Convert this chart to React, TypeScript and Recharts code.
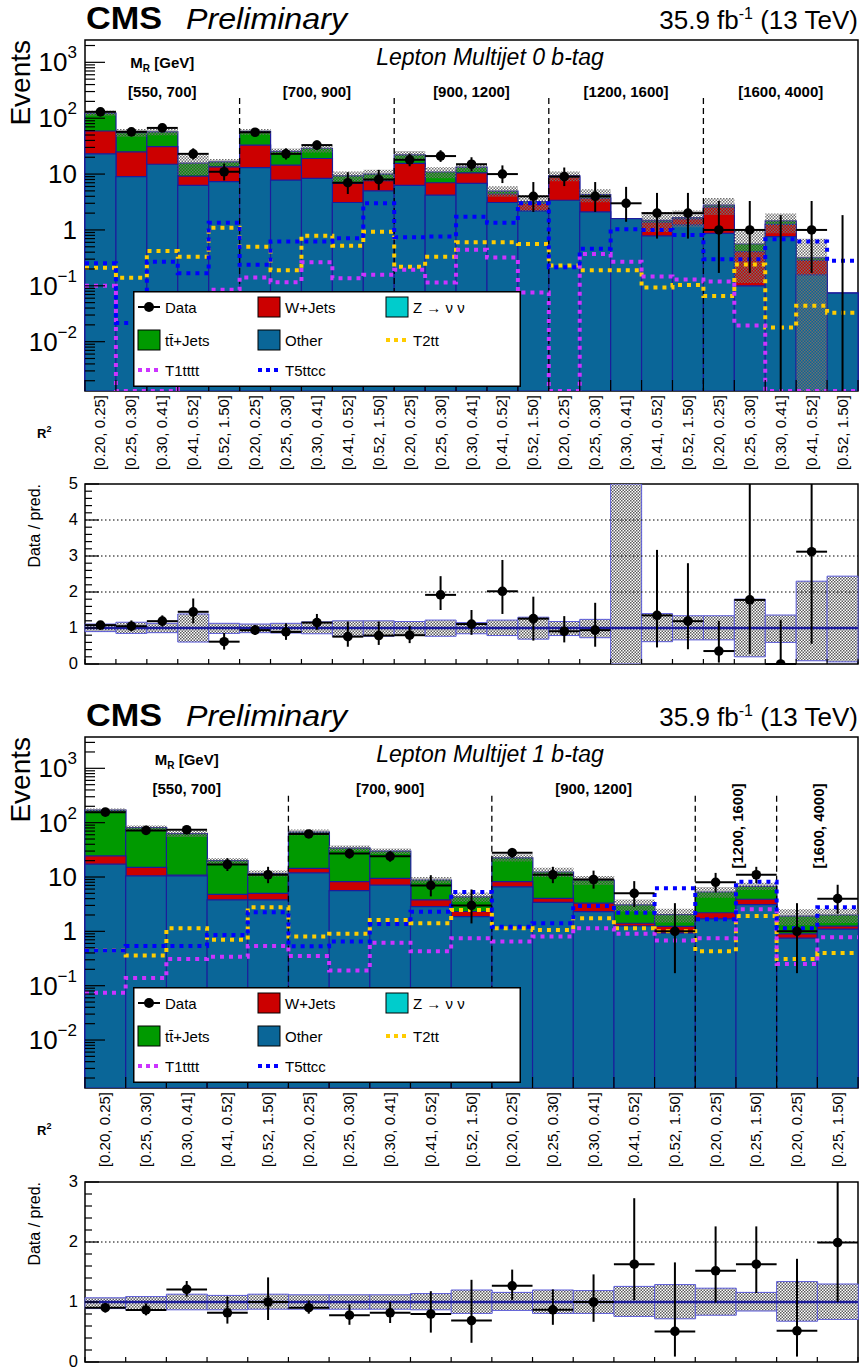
import React from 'react';
import {
  ComposedChart,
  Bar,
  Line,
  Scatter,
  XAxis,
  YAxis,
  ErrorBar,
  ReferenceLine,
  ReferenceArea,
  Legend,
} from 'recharts';

const FONT = '"Liberation Sans", Arial, Helvetica, sans-serif';

const C_OTHER = '#0a6698';
const C_WJETS = '#cc0000';
const C_TTJETS = '#009a00';
const C_ZNN = '#00cccc';
const C_T2TT = '#ffcc00';
const C_T1TTTT = '#cc33ff';
const C_T5TTCC = '#0000ff';
const C_OUTLINE = '#1c1c9c';

// R² bin labels
const R2_FIVE = ['[0.20, 0.25]', '[0.25, 0.30]', '[0.30, 0.41]', '[0.41, 0.52]', '[0.52, 1.50]'];
const R2_TWO = ['[0.20, 0.25]', '[0.25, 1.50]'];

// ---------------- Lepton Multijet 0 b-tag ----------------
const R2_LABELS_0B = [...R2_FIVE, ...R2_FIVE, ...R2_FIVE, ...R2_FIVE, ...R2_FIVE];
const MR_LABELS_0B = ['[550, 700]', '[700, 900]', '[900, 1200]', '[1200, 1600]', '[1600, 4000]'];
const MR_SIZES_0B = [5, 5, 5, 5, 5];

const OTHER_0B = [23, 9.0, 15, 6.3, 7.3, 13, 7.8, 8.4, 3.1, 5.0, 6.3, 4.2, 6.8, 3.1, 2.2, 3.4, 2.1, 1.6, 0.78, 1.23, 0.87, 0.1, 0.76, 0.157, 0.074];
const WJETS_0B = [36, 16, 16, 2.9, 6.2, 20, 6.7, 10.6, 3.7, 2.6, 9.2, 2.8, 3.7, 1.3, 0.8, 5.5, 1.6, 0, 0.6, 0.35, 1.7, 0.31, 0.5, 0.13, 0];
const TTJETS_0B = [64, 30, 26, 6.5, 3.0, 25, 11, 10, 2.5, 2.4, 6.5, 3.9, 2.8, 0.55, 0.2, 0.5, 0.6, 0, 0.1, 0.09, 0.2, 0.15, 0.19, 0.03, 0];

// relative uncertainty of the background prediction (main panel band)
const BAND_LO_0B = [0.9, 0.85, 0.87, 0.61, 0.85, 0.87, 0.86, 0.84, 0.77, 0.77, 0.79, 0.77, 0.84, 0.79, 0.69, 0.79, 0.73, null, 0.62, 0.67, 0.67, 0.2, 0.6, 0.001, null];
const BAND_HI_0B = [1.11, 1.16, 1.13, 1.39, 1.13, 1.11, 1.13, 1.17, 1.2, 1.2, 1.18, 1.22, 1.15, 1.22, 1.3, 1.18, 1.24, null, 1.4, 1.34, 1.34, 1.8, 1.36, 2.2, null];
// ratio panel band
const RBAND_LO_0B = [0.9, 0.85, 0.87, 0.61, 0.85, 0.87, 0.86, 0.84, 0.77, 0.77, 0.79, 0.77, 0.84, 0.79, 0.69, 0.79, 0.73, 0, 0.62, 0.67, 0.67, 0.2, 0.6, 0.09, 0.06];
const RBAND_HI_0B = [1.11, 1.16, 1.13, 1.39, 1.13, 1.11, 1.13, 1.17, 1.2, 1.2, 1.18, 1.22, 1.15, 1.22, 1.3, 1.18, 1.24, 5, 1.4, 1.34, 1.34, 1.8, 1.36, 2.3, 2.44];

const DATA_0B = [130, 57, 67, 23, 11, 56, 23, 33, 7, 8, 18, 21, 15, 10, 4, 9, 4, 3, 2, 2, 1, 1, 0, 1, 0];
const DATA_ERR_LO_0B = [11.4, 7.5, 8.2, 4.8, 3.3, 7.5, 4.8, 5.7, 2.6, 2.8, 4.2, 4.5, 3.8, 3.1, 1.9, 2.9, 1.9, 1.6, 1.3, 1.3, 0.83, 0.83, 0, 0.83, 0];
const DATA_ERR_HI_0B = [12.4, 8.6, 9.2, 5.9, 4.4, 8.5, 5.9, 6.8, 3.8, 3.9, 5.3, 5.7, 5.0, 4.3, 3.2, 4.1, 3.2, 2.9, 2.6, 2.6, 2.3, 2.3, 1.84, 2.3, 1.84];

const RATIO_0B = [1.08, 1.05, 1.19, 1.45, 0.62, 0.94, 0.89, 1.15, 0.76, 0.79, 0.8, 1.92, 1.11, 2.02, 1.26, 0.91, 0.94, null, 1.35, 1.19, 0.36, 1.78, 0, 3.12, null];
const RATIO_ERR_LO_0B = [0.09, 0.14, 0.15, 0.32, 0.22, 0.13, 0.22, 0.2, 0.28, 0.26, 0.22, 0.42, 0.3, 0.63, 0.61, 0.31, 0.46, 0, 0.89, 0.78, 0.32, 1.5, 0, 2.56, 0];
// upper errors running past the frame are shown up to the frame edge
const RATIO_ERR_HI_0B = [0.1, 0.16, 0.16, 0.37, 0.24, 0.14, 0.24, 0.24, 0.42, 0.39, 0.26, 0.52, 0.39, 0.87, 0.61, 0.42, 0.76, 0, 1.82, 1.61, 0.84, 3.22, 1.23, 1.88, 0];

const T2TT_0B = [0.21, 0.14, 0.42, 0.33, 1.1, 0.5, 0.19, 0.79, 0.52, 0.93, 0.22, 0.33, 0.6, 0.6, 0.56, 0.23, 0.19, 0.19, 0.093, 0.103, 0.066, 0.24, 0.018, 0.044, 0.033];
const T1TTTT_0B = [0.1, 0, 0, 0.04, 0.085, 0.141, 0.116, 0.265, 0.137, 0.157, 0.193, 0.115, 0.44, 0.32, 0.076, 0, 0.37, 0.27, 0.147, 0.13, 0.12, 0.0195, 0, 0, 0];
const T5TTCC_0B = [0.254, 0.0216, 0.27, 0.168, 1.35, 0.237, 0.62, 0.62, 0.71, 3.0, 0.74, 0.76, 1.73, 1.35, 3.0, 0.216, 0.46, 1.03, 1.0, 0.81, 0.3, 0.3, 0.68, 0.62, 0.28];

// ---------------- Lepton Multijet 1 b-tag ----------------
const R2_LABELS_1B = [...R2_FIVE, ...R2_FIVE, ...R2_FIVE, ...R2_TWO, ...R2_TWO];
const MR_LABELS_1B = ['[550, 700]', '[700, 900]', '[900, 1200]', '[1200, 1600]', '[1600, 4000]'];
const MR_SIZES_1B = [5, 5, 5, 2, 2];

const OTHER_1B = [17.2, 10.5, 10.5, 3.8, 3.8, 11.9, 5.6, 7.1, 2.85, 1.87, 6.6, 3.4, 2.3, 1.26, 0.93, 1.7, 3.1, 0.75, 1.1];
const WJETS_1B = [7.2, 4.5, 0.3, 1.0, 1.2, 2.5, 2.6, 2.3, 0.95, 0.45, 1.6, 0.66, 1.0, 0.15, 0.3, 0.5, 0.8, 0.15, 0.15];
const TTJETS_1B = [146, 66, 52, 15.2, 6.6, 52.6, 25.8, 20.6, 5.0, 2.0, 14.3, 8.3, 5.5, 1.65, 0.8, 3.1, 2.85, 1.0, 0.75];

const BAND_LO_1B = [0.89, 0.87, 0.87, 0.87, 0.88, 0.88, 0.88, 0.88, 0.87, 0.81, 0.86, 0.81, 0.81, 0.76, 0.72, 0.78, 0.85, 0.68, 0.71];
const BAND_HI_1B = [1.07, 1.09, 1.13, 1.11, 1.13, 1.12, 1.12, 1.12, 1.14, 1.2, 1.16, 1.2, 1.19, 1.26, 1.29, 1.23, 1.16, 1.34, 1.3];

const DATA_1B = [156, 72, 74, 17, 11, 62, 27, 24, 7, 3, 28, 11, 9, 5, 1, 8, 11, 1, 4];
const DATA_ERR_LO_1B = [12.5, 8.5, 8.6, 4.1, 3.3, 7.9, 5.2, 4.9, 2.6, 1.6, 5.3, 3.3, 2.9, 2.2, 0.83, 2.8, 3.3, 0.83, 1.9];
const DATA_ERR_HI_1B = [13.5, 9.5, 9.6, 5.2, 4.4, 8.9, 6.2, 5.9, 3.8, 2.9, 6.3, 4.4, 4.1, 3.4, 2.3, 3.9, 4.4, 2.3, 3.2];

const RATIO_1B = [0.905, 0.867, 1.21, 0.82, 1.0, 0.905, 0.78, 0.82, 0.8, 0.69, 1.27, 0.87, 1.0, 1.63, 0.51, 1.52, 1.63, 0.52, 1.99];
const RATIO_ERR_LO_1B = [0.08, 0.09, 0.12, 0.18, 0.3, 0.1, 0.16, 0.17, 0.31, 0.37, 0.24, 0.25, 0.33, 0.6, 0.42, 0.53, 0.48, 0.43, 0.99];
const RATIO_ERR_HI_1B = [0.08, 0.11, 0.14, 0.27, 0.41, 0.12, 0.18, 0.18, 0.38, 0.68, 0.27, 0.34, 0.46, 1.1, 1.15, 0.74, 0.63, 1.2, 1.01];

const T2TT_1B = [0.45, 0.36, 1.14, 0.7, 2.77, 0.8, 0.9, 1.62, 1.41, 2.48, 1.14, 1.06, 1.75, 1.14, 1.0, 0.43, 1.92, 0.31, 0.4];
const T1TTTT_1B = [0.074, 0.139, 0.31, 0.34, 0.54, 0.35, 0.19, 0.62, 0.43, 0.75, 0.65, 0.8, 1.14, 0.9, 0.68, 0.75, 2.55, 0.25, 0.78];
const T5TTCC_1B = [0.445, 0.54, 0.54, 0.86, 2.25, 0.53, 0.65, 1.37, 2.3, 5.3, 1.22, 1.41, 2.93, 2.21, 6.2, 1.67, 8.2, 1.14, 2.77];

// axis ranges
const Y_RANGE_0B: [number, number] = [0.00131, 2510];
const Y_RANGE_1B: [number, number] = [0.00131, 3770];
const RATIO_MAX_0B = 5;
const RATIO_MAX_1B = 3;
const LOG_DECADES = [-3, -2, -1, 0, 1, 2, 3];

const LEGEND_ITEMS = [
  { label: 'Data', kind: 'data', color: '#000' },
  { label: 'W+Jets', kind: 'box', color: C_WJETS },
  { label: 'Z \u2192 \u03bd \u03bd', kind: 'box', color: C_ZNN },
  { label: 'tt\u0304+Jets', kind: 'box', color: C_TTJETS },
  { label: 'Other', kind: 'box', color: C_OTHER },
  { label: 'T2tt', kind: 'line', color: C_T2TT },
  { label: 'T1tttt', kind: 'line', color: C_T1TTTT },
  { label: 'T5ttcc', kind: 'line', color: C_T5TTCC },
];

// ---------------- geometry ----------------
const W = 862;
const PLOT_LEFT = 85;
const PLOT_RIGHT = 858;
const MAIN_H = 480;
const MAIN_TOP_MARGIN = 40;
const MAIN_PLOT_H = 351;
const RATIO_TOP_MARGIN = 14;
const RATIO_PLOT_H = 180;
const RATIO_BOTTOM_SPACE = 12;
const RATIO_H = RATIO_TOP_MARGIN + RATIO_PLOT_H + RATIO_BOTTOM_SPACE;

type Spec = {
  other: number[];
  wjets: number[];
  ttjets: number[];
  bandLo: (number | null)[];
  bandHi: (number | null)[];
  data: number[];
  errLo: number[];
  errHi: number[];
  t2tt: number[];
  t1tttt: number[];
  t5ttcc: number[];
  yRange: [number, number];
  r2: string[];
  separators: number[];
  sepTop: number;
  legendTop: number;
};

const logTicks = (range: [number, number]) => {
  const out: number[] = [];
  LOG_DECADES.forEach((e) => {
    for (let k = 1; k <= 9; k++) {
      const v = k * Math.pow(10, e);
      if (v >= range[0] && v <= range[1]) out.push(v);
    }
  });
  return out;
};

const LogYTick = (props: any) => {
  const { x, y, payload } = props;
  const v: number = payload.value;
  const e = Math.round(Math.log10(v));
  const major = Math.abs(v / Math.pow(10, e) - 1) < 1e-6;
  const len = major ? 20 : 10;
  let label: React.ReactNode = null;
  if (major) {
    if (e === 0 || e === 1) {
      label = (
        <text x={x - 8} y={y + 9} textAnchor="end" fontSize={26} fontFamily={FONT} fill="#000">
          {e === 0 ? '1' : '10'}
        </text>
      );
    } else {
      label = (
        <text x={x - 8} y={y + 9} textAnchor="end" fontSize={26} fontFamily={FONT} fill="#000">
          10
          <tspan dy={-13} fontSize={17}>
            {e < 0 ? `\u2212${-e}` : `${e}`}
          </tspan>
        </text>
      );
    }
  }
  return (
    <g>
      <line x1={x} y1={y} x2={x + len} y2={y} stroke="#000" strokeWidth={1.2} />
      {label}
    </g>
  );
};

const RatioYTick = (props: any) => {
  const { x, y, payload } = props;
  const v: number = payload.value;
  const major = Math.abs(v - Math.round(v)) < 1e-6;
  return (
    <g>
      <line x1={x} y1={y} x2={x + (major ? 14 : 7)} y2={y} stroke="#000" strokeWidth={1.2} />
      {major && (
        <text x={x - 7} y={y + 5} textAnchor="end" fontSize={16.5} fontFamily={FONT} fill="#000">
          {Math.round(v)}
        </text>
      )}
    </g>
  );
};

const makeBinTick = (labels: string[], edgeLen: number) => (props: any) => {
  const { x, y, payload } = props;
  const v: number = payload.value;
  if (Math.abs(v - Math.round(v)) < 1e-6) {
    return <line x1={x} y1={y} x2={x} y2={y - edgeLen} stroke="#000" strokeWidth={1.2} />;
  }
  const label = labels[Math.floor(v)];
  if (!label) return <g />;
  return (
    <text
      transform={`translate(${x + 5}, ${y + 4}) rotate(-90)`}
      textAnchor="end"
      fontSize={15}
      fontFamily={FONT}
      fill="#000"
    >
      {label}
    </text>
  );
};

const steps = (vals: number[], floor: number) => [
  ...vals.map((v, i) => ({ x: i, v: Math.max(v, floor) })),
  { x: vals.length, v: Math.max(vals[vals.length - 1], floor) },
];

const DataDot = (props: any) => <circle cx={props.cx} cy={props.cy} r={4.8} fill="#000" />;
const NoDot = () => <g />;

const LegendBox = () => (
  <svg width={388} height={96} style={{ display: 'block' }}>
    <rect x={0.75} y={0.75} width={386.5} height={94.5} fill="#fff" stroke="#000" strokeWidth={1.5} />
    {LEGEND_ITEMS.map((it, i) => {
      const col = i % 3;
      const row = Math.floor(i / 3);
      const sx = [5, 125, 253][col];
      const cy = [16, 49, 79][row];
      let sym: React.ReactNode;
      if (it.kind === 'data') {
        sym = (
          <g>
            <line x1={sx} y1={cy} x2={sx + 22} y2={cy} stroke="#000" strokeWidth={2} />
            <circle cx={sx + 11} cy={cy} r={5} fill="#000" />
          </g>
        );
      } else if (it.kind === 'box') {
        sym = <rect x={sx} y={cy - 10} width={22} height={20} fill={it.color} stroke="#000" strokeWidth={1} />;
      } else {
        sym = (
          <line x1={sx} y1={cy} x2={sx + 22} y2={cy} stroke={it.color} strokeWidth={4} strokeDasharray="4 4" />
        );
      }
      return (
        <g key={it.label}>
          {sym}
          <text x={sx + 27} y={cy + 5.5} fontSize={15} fontFamily={FONT} fill="#000">
            {it.label}
          </text>
        </g>
      );
    })}
  </svg>
);

const MainPanel = ({ p }: { p: Spec }) => {
  const n = p.other.length;
  const [yMin, yMax] = p.yRange;
  const rows = p.other.map((o, i) => {
    const ow = o + p.wjets[i];
    const tot = ow + p.ttjets[i];
    const lo = p.bandLo[i];
    const hi = p.bandHi[i];
    return {
      x: i + 0.5,
      o,
      ow,
      tot,
      band: lo == null || hi == null ? null : [Math.max(tot * lo, yMin * 0.1), tot * hi],
    };
  });
  const pts = p.data
    .map((d, i) => ({ x: i + 0.5, y: d, ex: 0.5, ey: [p.errLo[i], p.errHi[i]] }))
    .filter((q) => q.y > 0);
  const zeros = p.data
    .map((d, i) => ({ x: i + 0.5, y: yMin, ey: [0, p.errHi[i]], d }))
    .filter((q) => q.d === 0);
  const xTicks = Array.from({ length: 2 * n + 1 }, (_, k) => k / 2);
  const BinTick = makeBinTick(p.r2, 11);

  return (
    <ComposedChart
      width={W}
      height={MAIN_H}
      data={rows}
      margin={{ top: MAIN_TOP_MARGIN, right: W - PLOT_RIGHT, bottom: 9, left: 0 }}
      barCategoryGap={0}
      barGap={0}
    >
      <XAxis
        xAxisId="num"
        type="number"
        dataKey="x"
        domain={[0, n]}
        ticks={xTicks}
        interval={0}
        tick={BinTick}
        tickLine={false}
        axisLine={false}
        tickSize={0}
        tickMargin={0}
        height={80}
        allowDataOverflow
      />
      <XAxis xAxisId="c0" type="category" dataKey="x" hide height={0} />
      <XAxis xAxisId="c1" type="category" dataKey="x" hide height={0} />
      <XAxis xAxisId="c2" type="category" dataKey="x" hide height={0} />
      <XAxis xAxisId="c3" type="category" dataKey="x" hide height={0} />
      <YAxis
        type="number"
        scale="log"
        domain={[yMin, yMax]}
        allowDataOverflow
        ticks={logTicks(p.yRange)}
        interval={0}
        tick={LogYTick}
        tickLine={false}
        axisLine={false}
        tickSize={0}
        tickMargin={0}
        width={PLOT_LEFT}
      />
      <Bar xAxisId="c0" dataKey="tot" fill={C_TTJETS} stroke={C_OUTLINE} strokeWidth={1.2} isAnimationActive={false} />
      <Bar xAxisId="c1" dataKey="ow" fill={C_WJETS} stroke={C_OUTLINE} strokeWidth={1.2} isAnimationActive={false} />
      <Bar xAxisId="c2" dataKey="o" fill={C_OTHER} stroke={C_OUTLINE} strokeWidth={1.2} isAnimationActive={false} />
      <Bar xAxisId="c3" dataKey="band" fill="url(#hatchMain)" isAnimationActive={false} />
      {p.separators.map((s) => (
        <ReferenceLine
          key={s}
          xAxisId="num"
          segment={[
            { x: s, y: p.sepTop },
            { x: s, y: yMin },
          ]}
          stroke="#000"
          strokeWidth={1.3}
          strokeDasharray="6 4"
          ifOverflow="visible"
        />
      ))}
      <Line xAxisId="num" data={steps(p.t2tt, yMin)} dataKey="v" type="stepAfter" stroke={C_T2TT} strokeWidth={4} strokeDasharray="4 5" dot={false} isAnimationActive={false} />
      <Line xAxisId="num" data={steps(p.t1tttt, yMin)} dataKey="v" type="stepAfter" stroke={C_T1TTTT} strokeWidth={4} strokeDasharray="4 5" dot={false} isAnimationActive={false} />
      <Line xAxisId="num" data={steps(p.t5ttcc, yMin)} dataKey="v" type="stepAfter" stroke={C_T5TTCC} strokeWidth={4} strokeDasharray="4 5" dot={false} isAnimationActive={false} />
      <Scatter xAxisId="num" data={pts} dataKey="y" shape={DataDot} isAnimationActive={false}>
        <ErrorBar dataKey="ex" direction="x" width={0} stroke="#000" strokeWidth={2} />
        <ErrorBar dataKey="ey" direction="y" width={0} stroke="#000" strokeWidth={2} />
      </Scatter>
      <Scatter xAxisId="num" data={zeros} dataKey="y" shape={NoDot} isAnimationActive={false}>
        <ErrorBar dataKey="ey" direction="y" width={0} stroke="#000" strokeWidth={2} />
      </Scatter>
      <ReferenceArea
        xAxisId="num"
        x1={0}
        x2={n}
        y1={yMin}
        y2={yMax}
        fill="none"
        stroke="#000"
        strokeWidth={1.5}
        ifOverflow="visible"
      />
      <Legend
        layout="horizontal"
        verticalAlign="middle"
        align="center"
        wrapperStyle={{ left: 133, top: p.legendTop, width: 388, height: 96 }}
        content={() => <LegendBox />}
      />
    </ComposedChart>
  );
};

type RatioSpec = {
  ratio: (number | null)[];
  errLo: number[];
  errHi: number[];
  bandLo: number[];
  bandHi: number[];
  yMax: number;
};

const RatioPanel = ({ p }: { p: RatioSpec }) => {
  const n = p.bandLo.length;
  const rows = p.bandLo.map((lo, i) => ({ x: i + 0.5, band: [lo, p.bandHi[i]] }));
  const pts = p.ratio
    .map((r, i) => ({ x: i + 0.5, y: r, ex: 0.5, ey: [p.errLo[i], p.errHi[i]] }))
    .filter((q) => q.y !== null);
  const yTicks = Array.from({ length: p.yMax * 5 + 1 }, (_, k) => Math.round(k * 2) / 10);
  const xTicks = Array.from({ length: n + 1 }, (_, k) => k);
  const EdgeTick = makeBinTick([], 5);
  const grid = Array.from({ length: p.yMax - 2 }, (_, k) => k + 2);

  return (
    <ComposedChart
      width={W}
      height={RATIO_H}
      data={rows}
      margin={{ top: RATIO_TOP_MARGIN, right: W - PLOT_RIGHT, bottom: RATIO_BOTTOM_SPACE - 1, left: 0 }}
      barCategoryGap={0}
      barGap={0}
    >
      <XAxis
        xAxisId="num"
        type="number"
        dataKey="x"
        domain={[0, n]}
        ticks={xTicks}
        interval={0}
        tick={EdgeTick}
        tickLine={false}
        axisLine={false}
        tickSize={0}
        tickMargin={0}
        height={1}
        allowDataOverflow
      />
      <XAxis xAxisId="cat" type="category" dataKey="x" hide height={0} />
      <YAxis
        type="number"
        domain={[0, p.yMax]}
        allowDataOverflow
        ticks={yTicks}
        interval={0}
        tick={RatioYTick}
        tickLine={false}
        axisLine={false}
        tickSize={0}
        tickMargin={0}
        width={PLOT_LEFT}
      />
      {grid.map((g) => (
        <ReferenceLine key={g} xAxisId="num" y={g} stroke="#000" strokeWidth={1} strokeDasharray="1.5 2.5" />
      ))}
      <Bar xAxisId="cat" dataKey="band" fill="url(#hatchRatio)" stroke="#5a5ad8" strokeWidth={1} isAnimationActive={false} />
      <ReferenceLine xAxisId="num" y={1} stroke={C_OUTLINE} strokeWidth={2.5} />
      <Scatter xAxisId="num" data={pts} dataKey="y" shape={DataDot} isAnimationActive={false}>
        <ErrorBar dataKey="ex" direction="x" width={0} stroke="#000" strokeWidth={2} />
        <ErrorBar dataKey="ey" direction="y" width={0} stroke="#000" strokeWidth={2} />
      </Scatter>
      <ReferenceArea
        xAxisId="num"
        x1={0}
        x2={n}
        y1={0}
        y2={p.yMax}
        fill="none"
        stroke="#000"
        strokeWidth={1.5}
        ifOverflow="visible"
      />
    </ComposedChart>
  );
};

// Titles, axis titles and M_R bin headers drawn over a panel
const PanelText = ({
  top,
  tag,
  mrLabels,
  mrSizes,
  nBins,
}: {
  top: number;
  tag: string;
  mrLabels: string[];
  mrSizes: number[];
  nBins: number;
}) => {
  const binW = (PLOT_RIGHT - PLOT_LEFT) / nBins;
  let acc = 0;
  const groups = mrSizes.map((s, i) => {
    const cx = PLOT_LEFT + (acc + s / 2) * binW;
    acc += s;
    return { cx, s, label: mrLabels[i] };
  });
  const bottom = top + MAIN_PLOT_H;
  return (
    <g fontFamily={FONT} fill="#000">
      <text x={86} y={top - 11} fontSize={31.5} fontWeight="bold" textLength={76} lengthAdjust="spacingAndGlyphs">
        CMS
      </text>
      <text x={186} y={top - 11} fontSize={29} fontStyle="italic" textLength={161} lengthAdjust="spacingAndGlyphs">
        Preliminary
      </text>
      <text x={PLOT_RIGHT} y={top - 11} fontSize={26} textAnchor="end">
        35.9 fb
        <tspan dy={-10} fontSize={16}>
          -1
        </tspan>
        <tspan dy={10}> (13 TeV)</tspan>
      </text>
      <text x={490} y={top + 25} fontSize={23} fontStyle="italic" textAnchor="middle">
        {tag}
      </text>
      <text transform={`translate(30, ${top}) rotate(-90)`} fontSize={28} textAnchor="end">
        Events
      </text>
      <text x={groups[0].cx} y={top + 28} fontSize={15} fontWeight="bold" textAnchor="middle">
        M
        <tspan dy={4} fontSize={10}>
          R
        </tspan>
        <tspan dy={-4}> [GeV]</tspan>
      </text>
      {groups.map((g) =>
        g.s >= 5 ? (
          <text key={g.label} x={g.cx} y={top + 57} fontSize={15} fontWeight="bold" textAnchor="middle">
            {g.label}
          </text>
        ) : (
          <text
            key={g.label}
            transform={`translate(${g.cx + 7}, ${top + 89}) rotate(-90)`}
            fontSize={15}
            fontWeight="bold"
            textAnchor="middle"
          >
            {g.label}
          </text>
        )
      )}
      <text x={37} y={bottom + 47} fontSize={13} fontWeight="bold">
        R
        <tspan dy={-6} fontSize={9}>
          2
        </tspan>
      </text>
    </g>
  );
};

const RatioText = ({ top }: { top: number }) => (
  <text
    transform={`translate(40, ${top}) rotate(-90)`}
    fontSize={16}
    textAnchor="end"
    fontFamily={FONT}
    fill="#000"
  >
    Data / pred.
  </text>
);

const SPEC_0B: Spec = {
  other: OTHER_0B,
  wjets: WJETS_0B,
  ttjets: TTJETS_0B,
  bandLo: BAND_LO_0B,
  bandHi: BAND_HI_0B,
  data: DATA_0B,
  errLo: DATA_ERR_LO_0B,
  errHi: DATA_ERR_HI_0B,
  t2tt: T2TT_0B,
  t1tttt: T1TTTT_0B,
  t5ttcc: T5TTCC_0B,
  yRange: Y_RANGE_0B,
  r2: R2_LABELS_0B,
  separators: [5, 10, 15, 20],
  sepTop: 230,
  legendTop: 291,
};

const SPEC_1B: Spec = {
  other: OTHER_1B,
  wjets: WJETS_1B,
  ttjets: TTJETS_1B,
  bandLo: BAND_LO_1B,
  bandHi: BAND_HI_1B,
  data: DATA_1B,
  errLo: DATA_ERR_LO_1B,
  errHi: DATA_ERR_HI_1B,
  t2tt: T2TT_1B,
  t1tttt: T1TTTT_1B,
  t5ttcc: T5TTCC_1B,
  yRange: Y_RANGE_1B,
  r2: R2_LABELS_1B,
  separators: [5, 10, 15, 17],
  sepTop: 312,
  legendTop: 290,
};

const RATIO_SPEC_0B: RatioSpec = {
  ratio: RATIO_0B,
  errLo: RATIO_ERR_LO_0B,
  errHi: RATIO_ERR_HI_0B,
  bandLo: RBAND_LO_0B,
  bandHi: RBAND_HI_0B,
  yMax: RATIO_MAX_0B,
};

const RATIO_SPEC_1B: RatioSpec = {
  ratio: RATIO_1B,
  errLo: RATIO_ERR_LO_1B,
  errHi: RATIO_ERR_HI_1B,
  bandLo: BAND_LO_1B,
  bandHi: BAND_HI_1B,
  yMax: RATIO_MAX_1B,
};

// page positions of each panel's plot area top
const TOP_0B = 0;
const PLOT_TOP_R0B = 484;
const TOP_1B = 697;
const PLOT_TOP_R1B = 1182;

export default function App() {
  return (
    <div
      style={{
        position: 'absolute',
        left: 0,
        top: 0,
        width: W,
        height: 1369,
        overflow: 'hidden',
        background: '#fff',
        fontFamily: FONT,
      }}
    >
      <svg width={0} height={0} style={{ position: 'absolute' }}>
        <defs>
          <pattern id="hatchMain" width={3} height={3} patternUnits="userSpaceOnUse">
            <rect x={0} y={0} width={1.5} height={1.5} fill="#6e6e6e" />
            <rect x={1.5} y={1.5} width={1.5} height={1.5} fill="#6e6e6e" />
          </pattern>
          <pattern id="hatchRatio" width={3} height={3} patternUnits="userSpaceOnUse">
            <rect x={0} y={0} width={3} height={3} fill="#ffffff" />
            <rect x={0} y={0} width={1.5} height={1.5} fill="#5c5c5c" />
            <rect x={1.5} y={1.5} width={1.5} height={1.5} fill="#5c5c5c" />
          </pattern>
        </defs>
      </svg>
      <div style={{ position: 'absolute', left: 0, top: TOP_0B }}>
        <MainPanel p={SPEC_0B} />
      </div>
      <div style={{ position: 'absolute', left: 0, top: PLOT_TOP_R0B - RATIO_TOP_MARGIN }}>
        <RatioPanel p={RATIO_SPEC_0B} />
      </div>
      <div style={{ position: 'absolute', left: 0, top: TOP_1B }}>
        <MainPanel p={SPEC_1B} />
      </div>
      <div style={{ position: 'absolute', left: 0, top: PLOT_TOP_R1B - RATIO_TOP_MARGIN }}>
        <RatioPanel p={RATIO_SPEC_1B} />
      </div>
      <svg width={W} height={1369} style={{ position: 'absolute', left: 0, top: 0, pointerEvents: 'none' }}>
        <PanelText
          top={TOP_0B + MAIN_TOP_MARGIN}
          tag="Lepton Multijet 0 b-tag"
          mrLabels={MR_LABELS_0B}
          mrSizes={MR_SIZES_0B}
          nBins={OTHER_0B.length}
        />
        <RatioText top={PLOT_TOP_R0B} />
        <PanelText
          top={TOP_1B + MAIN_TOP_MARGIN}
          tag="Lepton Multijet 1 b-tag"
          mrLabels={MR_LABELS_1B}
          mrSizes={MR_SIZES_1B}
          nBins={OTHER_1B.length}
        />
        <RatioText top={PLOT_TOP_R1B} />
      </svg>
    </div>
  );
}
